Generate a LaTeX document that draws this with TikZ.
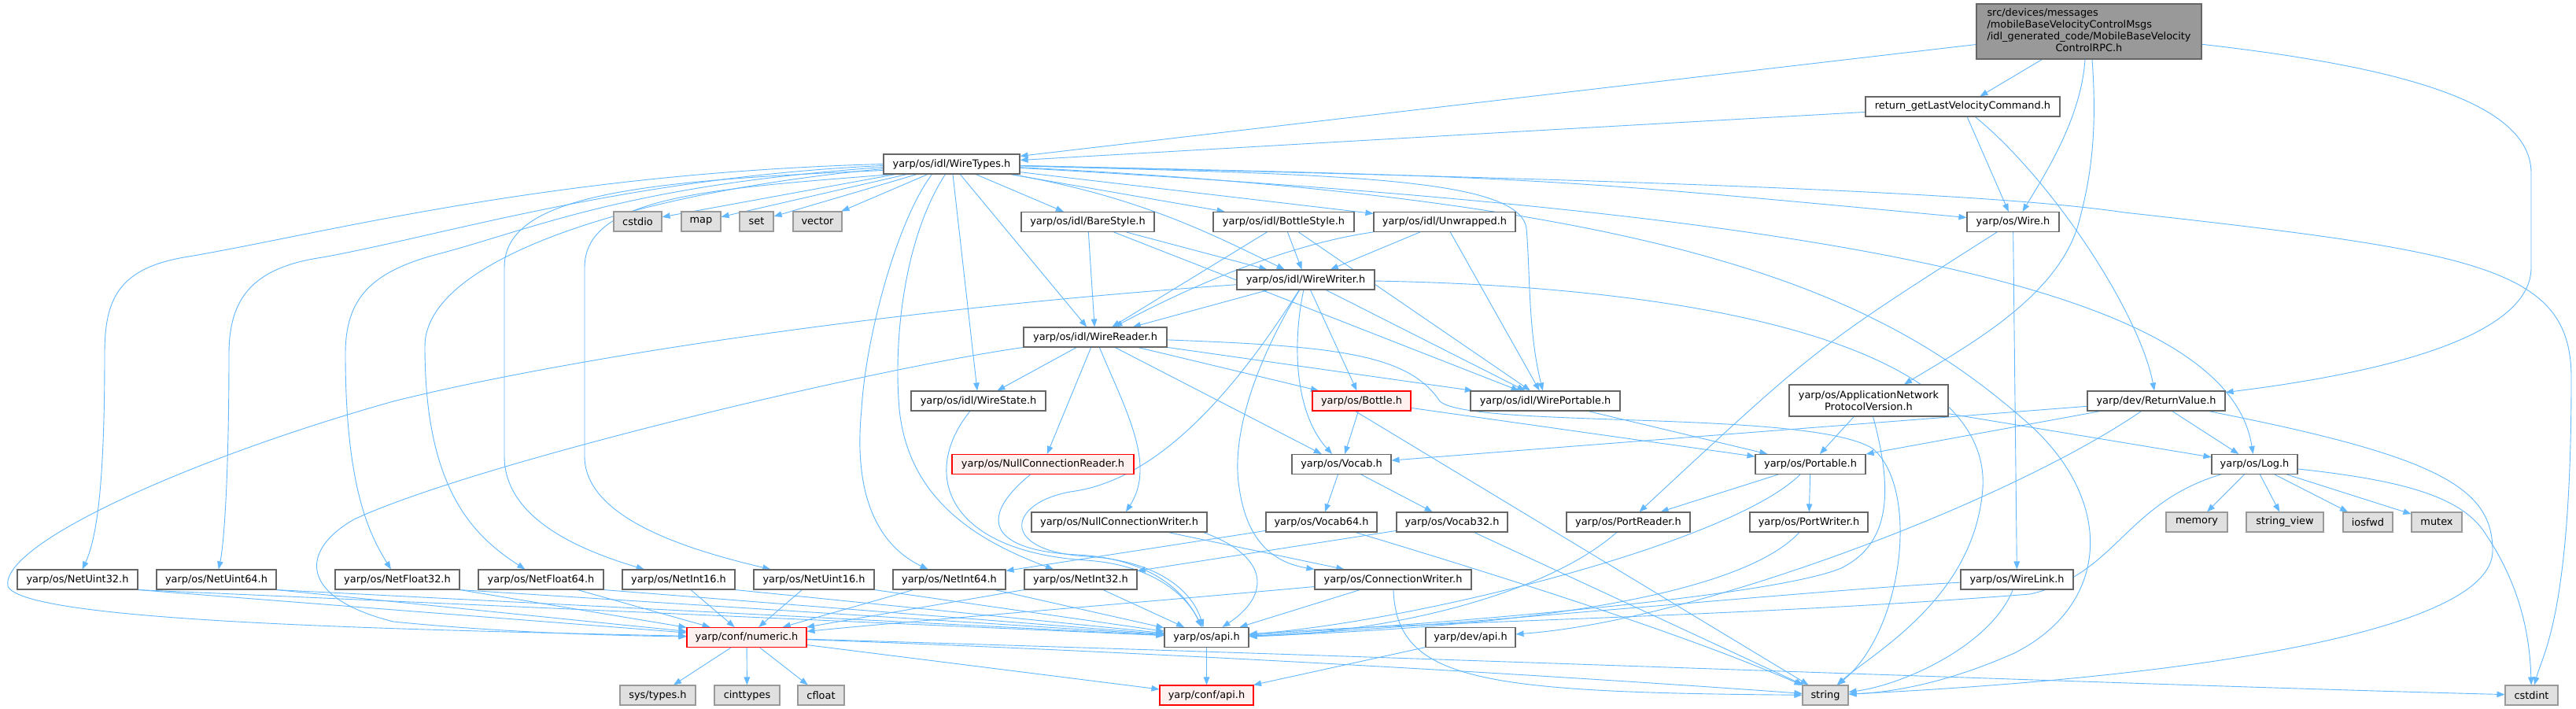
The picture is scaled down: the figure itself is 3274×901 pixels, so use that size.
\documentclass[tikz,border=0pt]{standalone}
\usepackage{fontspec}
\setmainfont{DejaVu Sans}
\usetikzlibrary{arrows.meta}
\definecolor{edgeblue}{HTML}{63B8FF}
\definecolor{nodegray}{HTML}{666666}
\definecolor{sysgray}{HTML}{999999}
\definecolor{sysfill}{HTML}{E0E0E0}
\definecolor{redfill}{HTML}{FFF0F0}
\definecolor{topfill}{HTML}{999999}
\newcommand\nodefont{\fontsize{12.9pt}{15pt}\selectfont}
\pgfdeclarelayer{bg}
\pgfsetlayers{bg,main}
\tikzset{
  box/.style={draw=nodegray, fill=white, line width=1.1pt, inner sep=0pt, minimum height=25pt, font=\nodefont, align=center},
  sysbox/.style={box, draw=sysgray, fill=sysfill},
  redbox/.style={box, draw=red, fill=redfill},
  topbox/.style={box, fill=topfill},
  e/.style={draw=edgeblue, line width=0.9pt, -{Triangle[length=10pt,width=7.5pt]}},
}
\begin{document}
\begin{tikzpicture}[x=1pt,y=-1pt]
\useasboundingbox (0,0) rectangle (3274,901);
% ---------------- nodes ----------------
\node[topbox, minimum width=286, minimum height=70] (T) at (2655,40) {\begin{tabular}{@{}l@{}}src/devices/messages\\/mobileBaseVelocityControlMsgs\\/idl\_generated\_code/MobileBaseVelocity\\\multicolumn{1}{@{}c@{}}{ControlRPC.h}\end{tabular}};
\node[box, minimum width=247] (RG) at (2494.5,135.5) {return\_getLastVelocityCommand.h};
\node[box, minimum width=173] (WT) at (1209.5,208.5) {yarp/os/idl/WireTypes.h};
\node[sysbox, minimum width=61] (cstdio) at (810.5,281.5) {cstdio};
\node[sysbox, minimum width=50] (map) at (891,281.5) {map};
\node[sysbox, minimum width=43] (set) at (961.5,281.5) {set};
\node[sysbox, minimum width=62] (vector) at (1039,281.5) {vector};
\node[box, minimum width=169] (BareStyle) at (1382.5,282) {yarp/os/idl/BareStyle.h};
\node[box, minimum width=179] (BottleStyle) at (1631.5,282) {yarp/os/idl/BottleStyle.h};
\node[box, minimum width=180] (Unwrapped) at (1836,282) {yarp/os/idl/Unwrapped.h};
\node[box, minimum width=117] (Wire) at (2558.5,282) {yarp/os/Wire.h};
\node[box, minimum width=175] (WireWriter) at (1659.5,355.5) {yarp/os/idl/WireWriter.h};
\node[box, minimum width=182] (WireReader) at (1392,428.5) {yarp/os/idl/WireReader.h};
\node[box, minimum width=171] (WireState) at (1243.5,509.5) {yarp/os/idl/WireState.h};
\node[redbox, minimum width=125] (Bottle) at (1730.5,509.5) {yarp/os/Bottle.h};
\node[box, minimum width=190] (WirePortable) at (1964,509.5) {yarp/os/idl/WirePortable.h};
\node[box, minimum width=202, minimum height=40] (ANPV) at (2375,509) {yarp/os/ApplicationNetwork\\ProtocolVersion.h};
\node[box, minimum width=175] (RV) at (2740.5,509.5) {yarp/dev/ReturnValue.h};
\node[redbox, minimum width=231] (NCR) at (1325.5,590) {yarp/os/NullConnectionReader.h};
\node[box, minimum width=126] (Vocab) at (1705,590) {yarp/os/Vocab.h};
\node[box, minimum width=140] (Portable) at (2301,590) {yarp/os/Portable.h};
\node[box, minimum width=109] (Log) at (2865.5,590) {yarp/os/Log.h};
\node[box, minimum width=223] (NCW) at (1422.5,663.5) {yarp/os/NullConnectionWriter.h};
\node[box, minimum width=141] (Vocab64) at (1679.5,663.5) {yarp/os/Vocab64.h};
\node[box, minimum width=141] (Vocab32) at (1845.5,663.5) {yarp/os/Vocab32.h};
\node[box, minimum width=157] (PortReader) at (2069.5,663.5) {yarp/os/PortReader.h};
\node[box, minimum width=150] (PortWriter) at (2299,663.5) {yarp/os/PortWriter.h};
\node[sysbox, minimum width=78] (memory) at (2792,663.5) {memory};
\node[sysbox, minimum width=98] (stringview) at (2904,663.5) {string\_view};
\node[sysbox, minimum width=63] (iosfwd) at (3009.5,663.5) {iosfwd};
\node[sysbox, minimum width=64] (mutex) at (3097,663.5) {mutex};
\node[box, minimum width=153] (NetUint32) at (98.5,736.5) {yarp/os/NetUint32.h};
\node[box, minimum width=152] (NetUint64) at (275,736.5) {yarp/os/NetUint64.h};
\node[box, minimum width=158] (NetFloat32) at (505,736.5) {yarp/os/NetFloat32.h};
\node[box, minimum width=159] (NetFloat64) at (687.5,736.5) {yarp/os/NetFloat64.h};
\node[box, minimum width=143] (NetInt16) at (862.5,736.5) {yarp/os/NetInt16.h};
\node[box, minimum width=153] (NetUint16) at (1034.5,736.5) {yarp/os/NetUint16.h};
\node[box, minimum width=143] (NetInt64) at (1206.5,736.5) {yarp/os/NetInt64.h};
\node[box, minimum width=143] (NetInt32) at (1373.5,736.5) {yarp/os/NetInt32.h};
\node[box, minimum width=199] (CW) at (1770.5,736.5) {yarp/os/ConnectionWriter.h};
\node[box, minimum width=143] (WireLink) at (2563.5,736.5) {yarp/os/WireLink.h};
\node[redbox, minimum width=152] (numeric) at (949,810) {yarp/conf/numeric.h};
\node[box, minimum width=107] (osapi) at (1533.5,810) {yarp/os/api.h};
\node[box, minimum width=114] (devapi) at (1869,810) {yarp/dev/api.h};
\node[sysbox, minimum width=96] (systypes) at (836,883.5) {sys/types.h};
\node[sysbox, minimum width=83] (cinttypes) at (949.5,883.5) {cinttypes};
\node[sysbox, minimum width=59] (cfloat) at (1043.5,883.5) {cfloat};
\node[redbox, minimum width=119] (confapi) at (1533.5,883.5) {yarp/conf/api.h};
\node[sysbox, minimum width=58] (string) at (2320,883.5) {string};
\node[sysbox, minimum width=67] (cstdint) at (3217.5,883.5) {cstdint};
% ---------------- edges ----------------
\begin{pgfonlayer}{bg}
\fill[white] (0,0) rectangle (3274,901);
% top node
\draw[e] (T) .. controls (1950,122) .. (WT);
\draw[e] (T) -- (RG);
\draw[e] ([xshift=-5pt]T.south) .. controls (2645,150) and (2600,220) .. ([xshift=12pt]Wire.north);
\draw[e] ([xshift=4pt]T.south) .. controls (2665,160) and (2660,220) .. (2640,290) .. controls (2610,380) and (2500,440) .. ([xshift=45pt]ANPV.north);
\draw[e] (T) .. controls (3050,85) and (3217,130) .. (3217,220) -- (3217,340) .. controls (3217,420) and (3060,470) .. (RV);
% return_get
\draw[e] (RG) .. controls (1950,166) .. (WT);
\draw[e] (RG) -- (Wire);
\draw[e] (RG) .. controls (2610,230) and (2720,400) .. (RV);
% WireTypes
\draw[e] (WT) -- (cstdio);
\draw[e] (WT) -- (map);
\draw[e] (WT) -- (set);
\draw[e] (WT) -- (vector);
\draw[e] (WT) -- (BareStyle);
\draw[e] (WT) -- (BottleStyle);
\draw[e] (WT) -- (Unwrapped);
\draw[e] (WT) -- (WireReader);
\draw[e] (WT) .. controls (1450,250) and (1545,300) .. (WireWriter);
\draw[e] (WT) -- (WireState);
\draw[e] (WT) .. controls (1700,222) and (1930,225) .. (1940,290) .. controls (1945,350) and (1942,420) .. (WirePortable);
\draw[e] (WT) .. controls (1950,225) .. (Wire);
\draw[e] (WT) .. controls (2300,270) and (2830,360) .. (Log);
\draw[e] (WT) .. controls (1900,225) and (2500,240) .. (2700,270) .. controls (3150,320) and (3268,340) .. (3268,480) .. controls (3268,780) and (3232,830) .. (cstdint);
\draw[e] (WT) .. controls (2150,255) and (2400,380) .. (2580,540) .. controls (2690,640) and (2680,770) .. (2560,830) .. controls (2470,870) and (2400,880) .. (string);
\draw[e] (WT.west) .. controls (700,220) and (420,295) .. (240,326) .. controls (150,340) and (133,380) .. (133,450) .. controls (133,600) and (125,680) .. (NetUint32);
\draw[e] ([yshift=-2pt]WT.west) .. controls (800,225) and (560,300) .. (410,327) .. controls (320,340) and (291,380) .. (291,450) .. controls (291,600) and (285,690) .. (NetUint64);
\draw[e] ([yshift=-4pt]WT.west) .. controls (800,235) and (680,290) .. (560,322) .. controls (470,345) and (439,380) .. (439,450) .. controls (439,620) and (470,680) .. (NetFloat32);
\draw[e] ([yshift=-6pt]WT.west) .. controls (800,245) and (540,330) .. (540,440) .. controls (540,620) and (600,680) .. (NetFloat64);
\draw[e] ([yshift=-8pt]WT.west) .. controls (800,230) and (641,250) .. (641,340) -- (641,580) .. controls (641,660) and (740,700) .. (NetInt16);
\draw[e] ([xshift=-75pt]WT.south) .. controls (900,240) and (743,250) .. (743,340) -- (743,580) .. controls (743,660) and (880,700) .. (NetUint16);
\draw[e] ([xshift=-25pt]WT.south) .. controls (1140,280) and (1100,430) .. (1095,520) .. controls (1085,620) and (1110,690) .. (NetInt64);
\draw[e] ([xshift=-8pt]WT.south) .. controls (1150,300) and (1135,430) .. (1143,520) .. controls (1155,640) and (1250,690) .. (NetInt32);
% styles
\draw[e] (BareStyle) -- (WireReader);
\draw[e] (BareStyle) -- (WireWriter);
\draw[e] (BareStyle) -- (WirePortable);
\draw[e] (BottleStyle) -- (WireReader);
\draw[e] (BottleStyle) -- (WireWriter);
\draw[e] (BottleStyle) -- (WirePortable);
\draw[e] (Unwrapped) .. controls (1640,310) and (1520,360) .. (WireReader);
\draw[e] (Unwrapped) -- (WireWriter);
\draw[e] (Unwrapped) -- (WirePortable);
% WireWriter
\draw[e] (WireWriter) -- (WireReader);
\draw[e] (WireWriter) .. controls (1100,395) and (700,460) .. (500,510) .. controls (250,580) and (0,690) .. (10,745) .. controls (30,790) and (500,800) .. (numeric);
\draw[e] (WireWriter) .. controls (2200,365) and (2530,450) .. (2520,620) .. controls (2510,760) and (2380,830) .. (string);
\draw[e] (WireWriter) -- (Bottle);
\draw[e] (WireWriter) .. controls (1640,450) and (1650,530) .. (Vocab);
\draw[e] (WireWriter) -- (WirePortable);
\draw[e] (WireWriter) .. controls (1590,470) and (1565,560) .. (1575,620) .. controls (1585,690) and (1620,715) .. (CW.north west);
\draw[e] (WireWriter) .. controls (1580,480) and (1480,610) .. (1360,625) .. controls (1280,640) and (1270,700) .. (1380,707) .. controls (1470,712) and (1515,750) .. (osapi);
% WireReader
\draw[e] (WireReader) -- (WireState);
\draw[e] (WireReader) -- (NCR);
\draw[e] (WireReader) .. controls (1430,520) and (1470,590) .. (NCW);
\draw[e] (WireReader) -- (Vocab);
\draw[e] (WireReader) -- (Bottle);
\draw[e] (WireReader) -- (WirePortable);
\draw[e] (WireReader) .. controls (1700,440) and (1790,450) .. (1830,510) .. controls (1870,545) and (2300,520) .. (2380,570) .. controls (2440,620) and (2420,800) .. (string);
\draw[e] (WireReader) .. controls (1100,470) and (600,590) .. (450,660) .. controls (380,700) and (380,760) .. (500,790) .. controls (650,805) and (800,808) .. (numeric);
% WireState, Null*, ConnectionWriter
\draw[e] (WireState) .. controls (1170,600) and (1200,700) .. (1380,712) .. controls (1470,718) and (1510,760) .. (osapi);
\draw[e] (NCR) .. controls (1240,660) and (1260,700) .. (1370,705) .. controls (1460,710) and (1505,750) .. (osapi);
\draw[e] ([xshift=-5pt]NCW.south east) .. controls (1620,710) and (1610,760) .. (osapi);
\draw[e] (NCW) -- (CW);
\draw[e] (CW) -- (osapi);
\draw[e] (CW) .. controls (1400,770) and (1150,790) .. (numeric);
\draw[e] (CW) .. controls (1775,865) and (1880,880) .. (string);
% Vocab, Bottle
\draw[e] (Vocab) -- (Vocab64);
\draw[e] (Vocab) -- (Vocab32);
\draw[e] (Vocab64) -- (NetInt64);
\draw[e] (Vocab64) .. controls (1950,745) and (2150,810) .. (string);
\draw[e] (Vocab32) -- (NetInt32);
\draw[e] (Vocab32) -- (string);
\draw[e] (Bottle) -- (Vocab);
\draw[e] (Bottle) -- (Portable);
\draw[e] ([xshift=-8pt]Bottle.south) -- (string);
\draw[e] (WirePortable) -- (Portable);
% Portable and port headers
\draw[e] (Portable) -- (PortReader);
\draw[e] (Portable) -- (PortWriter);
\draw[e] (Portable) .. controls (2200,690) and (1800,790) .. (osapi);
\draw[e] (PortReader) .. controls (1960,760) and (1750,805) .. (osapi);
\draw[e] (PortWriter) .. controls (2200,770) and (1850,800) .. (osapi);
% ApplicationNetworkProtocolVersion
\draw[e] (ANPV) -- (Portable);
\draw[e] (ANPV) -- (Log);
\draw[e] (ANPV) .. controls (2405,620) and (2405,690) .. (2340,722) .. controls (2250,760) and (1800,795) .. (osapi);
% Wire
\draw[e] (Wire) .. controls (2310,440) .. (PortReader);
\draw[e] (Wire) -- (WireLink);
\draw[e] (WireLink) .. controls (2300,750) and (1800,800) .. (osapi);
\draw[e] (WireLink) .. controls (2530,820) and (2420,870) .. (string);
% ReturnValue
\draw[e] (RV) -- (Vocab);
\draw[e] (RV) -- (Portable);
\draw[e] (RV) .. controls (2550,640) and (2150,790) .. (devapi);
\draw[e] (RV) -- (Log);
\draw[e] (RV) .. controls (3100,580) and (3168,620) .. (3168,700) .. controls (3168,800) and (2800,860) .. (string);
% Log
\draw[e] (Log) -- (memory);
\draw[e] (Log) -- (stringview);
\draw[e] (Log) -- (iosfwd);
\draw[e] (Log) -- (mutex);
\draw[e] (Log) .. controls (3050,610) and (3130,630) .. (3160,680) .. controls (3200,740) and (3215,800) .. (cstdint);
\draw[e] (Log) .. controls (2700,640) and (2690,730) .. (2580,755) .. controls (2200,785) and (1800,790) .. (osapi);
% api headers
\draw[e] (devapi) -- (confapi);
\draw[e] (osapi) -- (confapi);
% numeric
\draw[e] (numeric) -- (systypes);
\draw[e] (numeric) -- (cinttypes);
\draw[e] (numeric) -- (cfloat);
\draw[e] (numeric) -- (confapi);
\draw[e] (numeric) .. controls (1500,830) and (2000,860) .. (string);
\draw[e] (numeric) .. controls (1800,835) and (2700,870) .. (cstdint);
% Net* headers
\draw[e] (NetUint32.south east) -- (numeric);
\draw[e] (NetUint32.south east) -- (osapi);
\draw[e] (NetUint64.south east) -- (numeric);
\draw[e] (NetUint64.south east) -- (osapi);
\draw[e] (NetFloat32.south east) -- (numeric);
\draw[e] (NetFloat32.south east) -- (osapi);
\draw[e] (NetFloat64) -- (numeric);
\draw[e] (NetFloat64.south east) -- (osapi);
\draw[e] (NetInt16) -- (numeric);
\draw[e] (NetInt16.south east) -- (osapi);
\draw[e] (NetUint16) -- (numeric);
\draw[e] (NetUint16.south east) -- (osapi);
\draw[e] (NetInt64) -- (numeric);
\draw[e] (NetInt64) -- (osapi);
\draw[e] (NetInt32.south west) -- (numeric);
\draw[e] (NetInt32) -- (osapi);
\end{pgfonlayer}
\end{tikzpicture}
\end{document}
